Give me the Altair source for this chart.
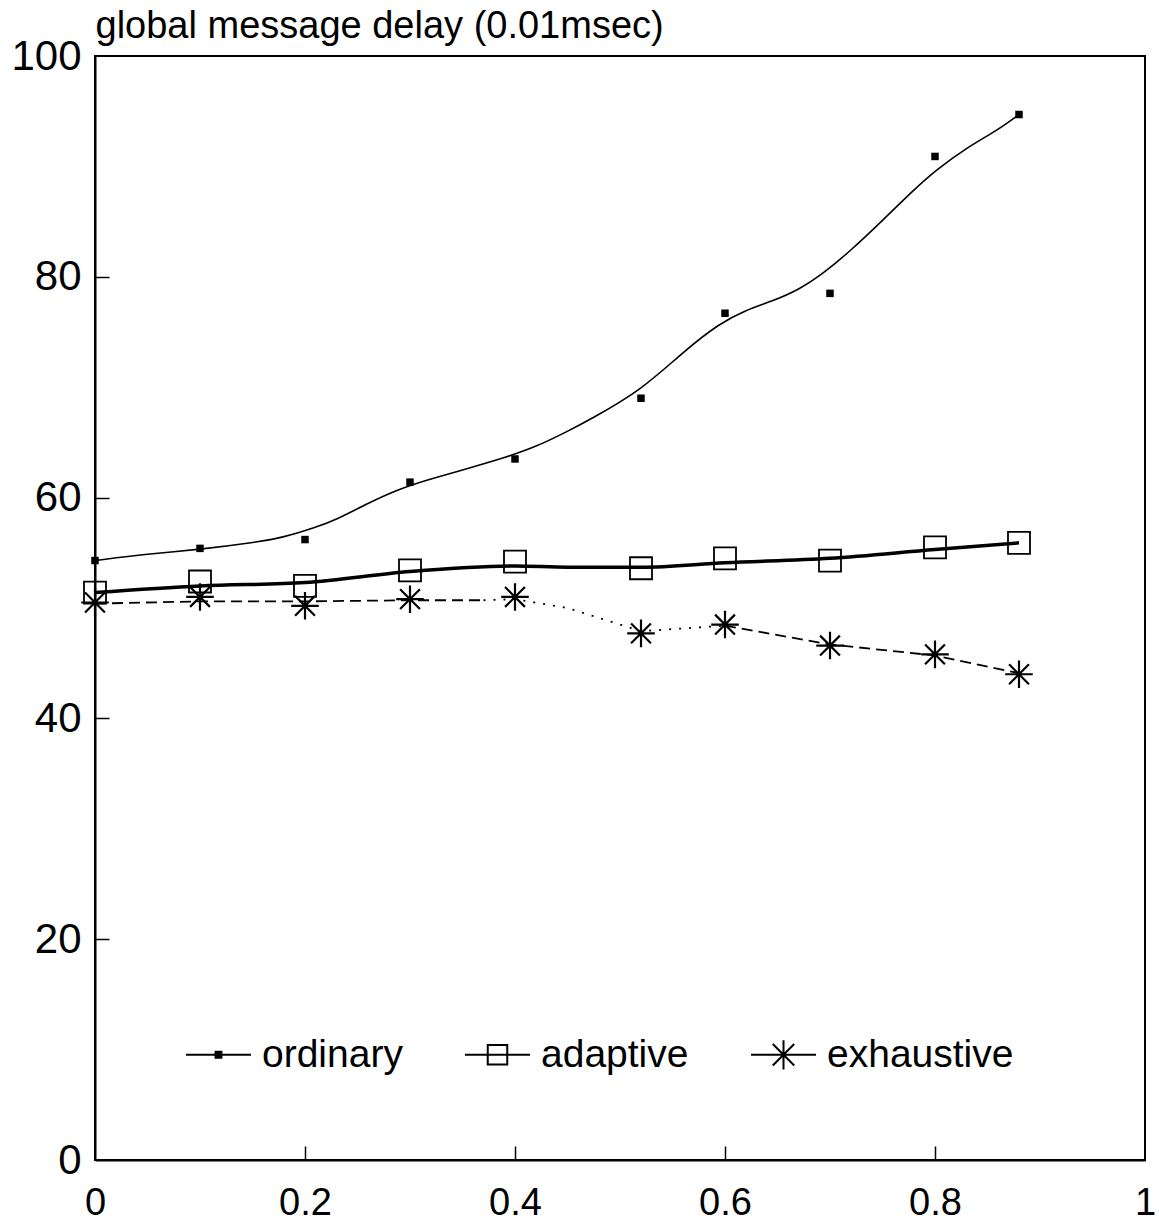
import altair as alt
import pandas as pd

# Measured points (load vs. global message delay, 0.01 msec)
load = [0.0, 0.1, 0.2, 0.3, 0.4, 0.52, 0.6, 0.7, 0.8, 0.88]
ordinary = [54.3, 55.4, 56.2, 61.4, 63.5, 69.0, 76.7, 78.5, 90.9, 94.7]
adaptive = [51.4, 52.4, 52.0, 53.4, 54.2, 53.6, 54.5, 54.3, 55.5, 55.9]
exhaustive = [50.5, 51.0, 50.2, 50.8, 51.0, 47.7, 48.5, 46.6, 45.8, 44.0]

# Smoothed curve through the ordinary measurements
ord_fit_x = [0.0, 0.05, 0.10, 0.15, 0.18, 0.21, 0.23, 0.26, 0.29, 0.32, 0.35,
             0.39, 0.42, 0.45, 0.47, 0.52, 0.56, 0.595, 0.62, 0.645, 0.67,
             0.695, 0.72, 0.75, 0.78, 0.80, 0.83, 0.86, 0.88]
ord_fit_y = [54.3, 54.9, 55.3, 55.9, 56.4, 57.3, 58.0, 59.5, 60.8, 61.7, 62.5,
             63.6, 64.6, 66.0, 67.0, 69.7, 73.2, 75.8, 77.0, 77.8, 78.8,
             80.4, 82.4, 85.1, 87.9, 89.6, 91.7, 93.3, 94.7]

# Smoothed curve through the adaptive measurements
adp_fit_x = [0.0, 0.1, 0.2, 0.3, 0.4, 0.45, 0.52, 0.6, 0.7, 0.8, 0.88]
adp_fit_y = [51.4, 52.0, 52.3, 53.3, 53.8, 53.7, 53.7, 54.1, 54.5, 55.3, 55.9]

# Exhaustive connecting line, in three stroke styles
exh_line_x = [0.0, 0.1, 0.2, 0.3, 0.37,
              0.37, 0.4, 0.45, 0.49, 0.52, 0.6,
              0.6, 0.7, 0.8, 0.88]
exh_line_y = [50.4, 50.6, 50.6, 50.7, 50.7,
              50.7, 50.8, 50.0, 48.8, 47.9, 48.4,
              48.4, 46.7, 45.7, 44.1]
exh_line_seg = ["a"] * 5 + ["b"] * 6 + ["c"] * 4
exh_line_style = ["dashed"] * 5 + ["dotted"] * 6 + ["dashed"] * 4

series_names = ["ordinary", "adaptive", "exhaustive"]

FONT = "Liberation Sans"
W, H = 1050, 1104

ord_pts = pd.DataFrame({"x": load, "y": ordinary})
adp_pts = pd.DataFrame({"x": load, "y": adaptive})
exh_pts = pd.DataFrame({"x": load, "y": exhaustive})
ord_fit = pd.DataFrame({"x": ord_fit_x, "y": ord_fit_y})
adp_fit = pd.DataFrame({"x": adp_fit_x, "y": adp_fit_y})
exh_line = pd.DataFrame({"x": exh_line_x, "y": exh_line_y,
                         "seg": exh_line_seg, "style": exh_line_style})
legend_df = pd.DataFrame({"x": [0.0] * 3, "y": [0.0] * 3, "series": series_names})

xscale = alt.Scale(domain=[0, 1], nice=False, zero=False)
yscale = alt.Scale(domain=[0, 100], nice=False, zero=False)

ASTERISK = "M-1,0H1M0,-1V1M-0.72,-0.72L0.72,0.72M-0.72,0.72L0.72,-0.72"

# Main axes: labels and the frame line; the y title sits above the plot
x_main = alt.Axis(orient="bottom", values=[0, 0.2, 0.4, 0.6, 0.8, 1], format="~g",
                  ticks=False, grid=False, domain=True, domainColor="black",
                  domainWidth=2, labelFont=FONT, labelFontSize=38, labelColor="black",
                  labelPadding=24, labelFlush=False, title=None)
y_main = alt.Axis(orient="left", values=[0, 20, 40, 60, 80, 100], format="d",
                  ticks=False, grid=False, domain=True, domainColor="black",
                  domainWidth=2, labelFont=FONT, labelFontSize=42, labelColor="black",
                  labelPadding=14, labelFlush=False,
                  title="global message delay (0.01msec)", titleAngle=0,
                  titleX=0, titleY=-19, titleAlign="left", titleBaseline="alphabetic",
                  titleFont=FONT, titleFontSize=38, titleFontWeight="normal",
                  titleColor="black")
# Inward tick marks along the bottom and left edges
x_ticks = alt.Axis(orient="top", offset=-H, values=[0.2, 0.4, 0.6, 0.8],
                   ticks=True, tickSize=14, tickWidth=1.5, tickColor="black",
                   labels=False, domain=False, grid=False, title=None)
y_ticks = alt.Axis(orient="right", offset=-W, values=[20, 40, 60, 80],
                   ticks=True, tickSize=14, tickWidth=1.5, tickColor="black",
                   labels=False, domain=False, grid=False, title=None)

ord_curve = alt.Chart(ord_fit).mark_line(
    color="black", strokeWidth=1.6, interpolate="basis"
).encode(
    x=alt.X("x:Q", scale=xscale, axis=x_main),
    y=alt.Y("y:Q", scale=yscale, axis=y_main),
)

adp_curve = alt.Chart(adp_fit).mark_line(
    color="black", strokeWidth=3.5, interpolate="monotone"
).encode(
    x=alt.X("x:Q", scale=xscale, axis=x_ticks),
    y=alt.Y("y:Q", scale=yscale, axis=y_ticks),
)

exh_curve = alt.Chart(exh_line).mark_line(
    color="black", strokeWidth=1.8
).encode(
    x=alt.X("x:Q", scale=xscale, axis=None),
    y=alt.Y("y:Q", scale=yscale, axis=None),
    detail="seg:N",
    strokeDash=alt.StrokeDash("style:N", scale=alt.Scale(
        domain=["dashed", "dotted"], range=[[11, 6], [2, 8]]), legend=None),
)

ord_marks = alt.Chart(ord_pts).mark_square(
    color="black", size=56, opacity=1
).encode(
    x=alt.X("x:Q", scale=xscale, axis=None),
    y=alt.Y("y:Q", scale=yscale, axis=None),
)

adp_marks = alt.Chart(adp_pts).mark_point(
    shape="square", filled=False, color="black", size=484, strokeWidth=1.8, opacity=1
).encode(
    x=alt.X("x:Q", scale=xscale, axis=None),
    y=alt.Y("y:Q", scale=yscale, axis=None),
)

exh_marks = alt.Chart(exh_pts).mark_point(
    shape=ASTERISK, filled=False, color="black", size=760, strokeWidth=2.2, opacity=1
).encode(
    x=alt.X("x:Q", scale=xscale, axis=None),
    y=alt.Y("y:Q", scale=yscale, axis=None),
)

# Legend entries: a line segment with each series' marker on it
legend_shapes = [
    "M-1,0H1M-0.09,-0.09H0.09V0.09H-0.09ZM-0.04,-0.04H0.04V0.04H-0.04Z",
    "M-1,0H1M-0.3,-0.3H0.3V0.3H-0.3Z",
    "M-1,0H1M0,-0.45V0.45M-0.33,-0.33L0.33,0.33M-0.33,0.33L0.33,-0.33",
]
legend_layer = alt.Chart(legend_df).transform_filter("false").mark_point(
    filled=False, color="black", strokeWidth=2, opacity=1
).encode(
    x=alt.X("x:Q", scale=xscale, axis=None),
    y=alt.Y("y:Q", scale=yscale, axis=None),
    shape=alt.Shape("series:N", scale=alt.Scale(domain=series_names, range=legend_shapes),
                    legend=alt.Legend(
                        orient="none", legendX=90, legendY=965, direction="horizontal",
                        title=None, symbolSize=4225, symbolStrokeWidth=2,
                        symbolStrokeColor="black", symbolFillColor="transparent",
                        symbolOpacity=1,
                        labelFont=FONT, labelFontSize=39, labelColor="black",
                        labelOffset=10, columnPadding=58, labelLimit=400,
                    )),
)

chart = alt.layer(
    ord_curve, adp_curve, exh_curve, ord_marks, adp_marks, exh_marks, legend_layer
).resolve_axis(
    x="independent", y="independent"
).resolve_scale(
    x="shared", y="shared"
).properties(
    width=W,
    height=H,
    background="white",
    autosize=alt.AutoSizeParams(type="none"),
    padding={"left": 95, "top": 56, "right": 14, "bottom": 66},
).configure_view(
    stroke="black", strokeWidth=2
)

chart.save("out.html", embed_options={"renderer": "svg", "actions": False})
